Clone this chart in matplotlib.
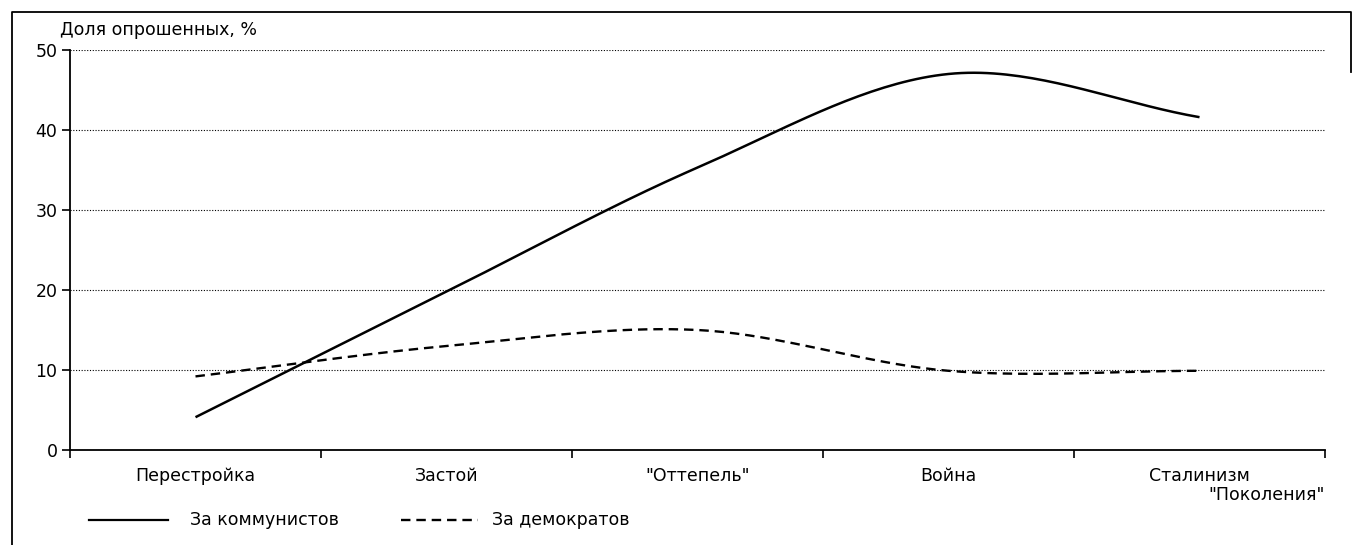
"""Generational poll chart: share of respondents for communists vs democrats."""

import matplotlib

matplotlib.use("Agg")

import matplotlib.pyplot as plt
import numpy as np
from matplotlib.lines import Line2D

categories = ["Перестройка", "Застой", "\"Оттепель\"", "Война", "Сталинизм"]
communists = [4.1, 19.8, 35.3, 47.0, 41.6]
democrats = [9.2, 13.0, 15.0, 9.9, 9.9]

FS = 12.5


def smooth(y, n=40):
    """Catmull-Rom curve through the points (like a spreadsheet 'smoothed line')."""
    y = np.asarray(y, float)
    x = np.arange(len(y), dtype=float)
    px = np.concatenate([[2 * x[0] - x[1]], x, [2 * x[-1] - x[-2]]])
    py = np.concatenate([[2 * y[0] - y[1]], y, [2 * y[-1] - y[-2]]])
    xs, ys = [], []
    t = np.linspace(0, 1, n)
    for i in range(1, len(px) - 2):
        for p, out in ((px, xs), (py, ys)):
            p0, p1, p2, p3 = p[i - 1], p[i], p[i + 1], p[i + 2]
            out.extend(0.5 * ((2 * p1) + (-p0 + p2) * t
                              + (2 * p0 - 5 * p1 + 4 * p2 - p3) * t ** 2
                              + (-p0 + 3 * p1 - 3 * p2 + p3) * t ** 3))
    return np.array(xs), np.array(ys)


plt.rcParams["font.family"] = ["DejaVu Sans"]
fig = plt.figure(figsize=(13.54, 5.45), dpi=100)
ax = fig.add_axes([0.0517, 0.1743, 0.9269, 0.734])

cx, cy = smooth(communists)
dx, dy = smooth(democrats)
ax.plot(cx, cy, color="black", lw=1.8, solid_capstyle="butt")
ax.plot(dx, dy, color="black", lw=1.7, ls=(0, (4, 2.5)))

ax.set_xlim(-0.5, 4.5)
ax.set_ylim(0, 50)
ax.set_yticks(range(0, 51, 10))
ax.set_xticks(np.arange(-0.5, 5, 1.0))
ax.set_xticklabels([])
ax.set_xticks(range(5), minor=True)
ax.set_xticklabels(categories, minor=True, fontsize=FS)
ax.tick_params(axis="x", which="minor", length=0, pad=12)
ax.tick_params(axis="x", which="major", length=6, width=1.2, direction="out")
ax.tick_params(axis="y", length=6, width=1.2, labelsize=FS, pad=3)
ax.grid(axis="y", ls=(0, (1, 1.5)), lw=0.8, color="black")
for s in ("top", "right"):
    ax.spines[s].set_visible(False)
ax.spines["left"].set_linewidth(1.3)
ax.spines["bottom"].set_linewidth(1.3)

fig.text(0.0443, 0.945, "Доля опрошенных, %", fontsize=FS, va="center")
fig.text(0.9786, 0.092, "\"Поколения\"", fontsize=FS, ha="right", va="center")

# legend drawn below the axis
fig.add_artist(Line2D([0.066, 0.124], [0.045, 0.045], color="black", lw=1.6))
fig.text(0.140, 0.045, "За коммунистов", fontsize=FS, va="center")
fig.add_artist(Line2D([0.296, 0.353], [0.045, 0.045], color="black", lw=1.7,
                      ls=(0, (4, 2.5))))
fig.text(0.363, 0.045, "За демократов", fontsize=FS, va="center")

# scanned page frame
fig.add_artist(Line2D([0.009, 0.009, 0.998, 0.998], [0.0, 0.978, 0.978, 0.868],
                      color="black", lw=1.3))

fig.savefig("out.png", dpi=100)
